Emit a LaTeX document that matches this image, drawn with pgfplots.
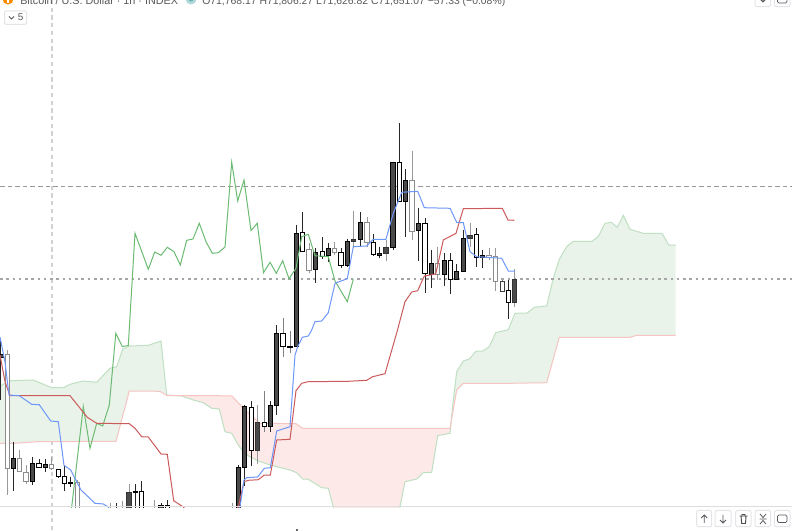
\documentclass[border=0pt]{standalone}
\usepackage{pgfplots}
\pgfplotsset{compat=1.18}
\usepackage{fontspec}
\setmainfont{Liberation Sans}
\definecolor{cloudG}{HTML}{E9F3EA}
\definecolor{cloudR}{HTML}{FDE9E7}
\definecolor{edgeG}{HTML}{BFE0C2}
\definecolor{edgeR}{HTML}{F6C4C2}
\definecolor{blueL}{HTML}{6E97FA}
\definecolor{redL}{HTML}{CB5A5A}
\definecolor{greenL}{HTML}{6CBB72}
\definecolor{darkB}{HTML}{4A4A4A}
\definecolor{btn}{HTML}{E4E5E9}
\definecolor{ico}{HTML}{5A5A5E}
% x, body top, body bottom, high, low, fill, edge, wick
\newcommand{\candle}[8]{%
  \addplot[draw=#8,line width=0.75pt] coordinates {(#1,#4)(#1,#5)};
  \addplot[fill=#6,draw=#7,line width=0.75pt] coordinates {(#1-2.1,#2)(#1+2.1,#2)(#1+2.1,#3)(#1-2.1,#3)} --cycle;
}
\newcommand{\dk}[5]{\candle{#1}{#2}{#3}{#4}{#5}{darkB}{black}{black!85}}
\newcommand{\dg}[5]{\candle{#1}{#2}{#3}{#4}{#5}{darkB}{black!80}{black!40}}
\newcommand{\wh}[5]{\candle{#1}{#2}{#3}{#4}{#5}{white}{black}{black!85}}
\newcommand{\gw}[5]{\candle{#1}{#2}{#3}{#4}{#5}{white}{black!45}{black!40}}
\begin{document}
\begin{tikzpicture}
\useasboundingbox (0,0) rectangle (594pt,398.25pt);
\fill[white] (0,0) rectangle (594pt,398.25pt);
\begin{scope}[x=0.75pt,y=-0.75pt,yshift=398.25pt]
  \draw[black!18,line width=1.5pt,dash pattern=on 3.2pt off 2.6pt] (52,0) -- (52,531);
\end{scope}
\begin{axis}[at={(0,18pt)},anchor=south west,scale only axis,width=594pt,height=380.25pt,
  xmin=0,xmax=792,ymin=0,ymax=507,y dir=reverse,axis lines=none]
% cloud fills
\addplot[fill=cloudG,draw=none] coordinates {(0,386)(10,380.7)(33.3,380)(51.7,387.7)(63.3,387.7)(70,384.3)(83.3,381)(96.7,382.3)(110,368.3)(116.7,366.7)(122.7,349)(130,346)(148.3,345.3)(161,341)(166.7,395)(160,391.3)(129.3,391)(116,441.3)(36.7,441.7)(15,443.3)(0,443.3)} --cycle;
\addplot[fill=cloudR,draw=none] coordinates {(166.7,395.5)(231.7,395.8)(245,410)(260,423.3)(296,423.7)(302.7,428.3)(450,428.3)(451,425)(450,433.3)(437.7,435.7)(431.7,472.3)(423.3,472.7)(416.7,479)(405,481.7)(400,507)(398,520)(336,520)(333.3,507)(328.3,488.3)(321.7,487.7)(308.3,479.3)(302.7,479)(296.7,472.7)(290,470)(270,465)(258.3,461)(245,454)(238.3,445)(231.7,433.3)(225,431.7)(219.3,409)(211.7,408.3)(203.3,402.7)(193.3,400)(181.7,396)} --cycle;
\addplot[fill=cloudG,draw=none] coordinates {(451,425)(453.3,400)(456.7,371.7)(463.3,361)(469.3,359)(476,351.3)(482.7,351)(489.3,346.7)(495.7,332.7)(508.3,329.7)(515,313.3)(527.3,313)(534.3,307.3)(546.7,306)(553.3,278.3)(559.3,259.3)(566.7,246.7)(573.3,241.3)(592,241.3)(598.3,236.7)(605,223.3)(611.3,222.3)(617.3,227.3)(623.3,215.3)(630,229.3)(643.3,233.3)(662,233.3)(668.7,245)(675.7,245.3)(675.7,335.3)(636.7,335.3)(630,337.3)(559.3,337.3)(546.7,382.7)(510,383.3)(463.3,383.3)(456.7,390)} --cycle;
% cloud edges: span A
\addplot[edgeG,line width=0.75pt] coordinates {(0,386)(10,380.7)(33.3,380)(51.7,387.7)(63.3,387.7)(70,384.3)(83.3,381)(96.7,382.3)(110,368.3)(116.7,366.7)(122.7,349)(130,346)(148.3,345.3)(161,341)(166.7,395)(181.7,396)(193.3,400)(203.3,402.7)(211.7,408.3)(219.3,409)(225,431.7)(231.7,433.3)(238.3,445)(245,454)(258.3,461)(270,465)(290,470)(296.7,472.7)(302.7,479)(308.3,479.3)(321.7,487.7)(328.3,488.3)(333.3,507)(336,520)(398,520)(400,507)(405,481.7)(416.7,479)(423.3,472.7)(431.7,472.3)(437.7,435.7)(450,433.3)(453.3,400)(456.7,371.7)(463.3,361)(469.3,359)(476,351.3)(482.7,351)(489.3,346.7)(495.7,332.7)(508.3,329.7)(515,313.3)(527.3,313)(534.3,307.3)(546.7,306)(553.3,278.3)(559.3,259.3)(566.7,246.7)(573.3,241.3)(592,241.3)(598.3,236.7)(605,223.3)(611.3,222.3)(617.3,227.3)(623.3,215.3)(630,229.3)(643.3,233.3)(662,233.3)(668.7,245)(675.7,245.3)};
% cloud edges: span B
\addplot[edgeR,line width=0.75pt] coordinates {(0,443.3)(15,443.3)(36.7,441.7)(116,441.3)(129.3,391)(160,391.3)(166.7,395.5)(231.7,395.8)(245,410)(260,423.3)(296,423.7)(302.7,428.3)(450,428.3)(456.7,390)(463.3,383.3)(510,383.3)(546.7,382.7)(559.3,337.3)(630,337.3)(636.7,335.3)(675.7,335.3)};
% horizontal levels
\addplot[color=black!40,line width=0.75pt,dash pattern=on 3.4pt off 2.3pt] coordinates {(0,186.3)(792,186.3)};
\addplot[color=black!35,line width=1.1pt,dash pattern=on 1.9pt off 2.8pt] coordinates {(0,279)(792,279)};
% candles: x, body top, body bottom, high, low
\dk{1}{354}{357}{340}{400}
\gw{7.3}{354.3}{468.3}{350}{495}
\dk{13.3}{458.3}{468.3}{441.7}{490.7}
\gw{19.5}{458.3}{471.7}{450}{472}
\gw{26}{472.3}{481.7}{465}{484}
\dk{32.3}{463.3}{481.7}{456.7}{485}
\wh{39}{463.3}{467.3}{459}{468}
\dk{45.3}{464.3}{467.3}{459}{471.7}
\gw{51.7}{464.3}{468.3}{456.7}{470}
\wh{58.3}{469.3}{476.7}{469.3}{478.3}
\wh{64.3}{476}{483.3}{465}{490.7}
\dk{70.7}{482.3}{483.7}{476.7}{486.7}
\gw{77.3}{482.3}{525}{480}{530}
\gw{110}{515}{525}{503}{530}
\dk{116.3}{515}{525}{503}{530}
\gw{122.3}{515}{525}{501}{530}
\dg{129}{492.3}{525}{484.3}{530}
\dk{135.3}{491.3}{492.7}{484}{530}
\wh{141.7}{491.3}{525}{481}{530}
\gw{154.7}{515}{525}{500}{530}
\dk{161}{505.7}{508}{503}{530}
\wh{167.3}{505.7}{525}{500}{530}
\gw{232}{515}{525}{503}{530}
\dk{238.3}{467.3}{525}{465}{530}
\dk{244.3}{406.3}{467.3}{405}{485.7}
\wh{251.7}{407.3}{450}{401}{466}
\dg{257.7}{422.3}{450}{405}{464}
\candle{264.3}{422.3}{426.7}{391}{432.3}{white}{black}{black!50}
\dk{270.3}{405}{426.7}{401}{432.3}
\dk{276.7}{333.3}{405}{325}{415}
\candle{283}{333.3}{346.7}{318}{357.3}{white}{black}{black!50}
\candle{290}{346}{347}{331}{352.7}{black}{black}{black!50}
\dk{296.5}{233.3}{346.7}{225}{347}
\wh{302.3}{232.3}{251}{211.7}{252}
\gw{309}{249.3}{270.7}{242.7}{273.3}
\dk{315.7}{252.3}{269.7}{248.3}{283.3}
\wh{322.3}{251.7}{256}{237.3}{259.3}
\dk{328.3}{248.3}{255.7}{243.3}{261.7}
\gw{334.7}{248.3}{252.7}{242.3}{255}
\wh{341}{252.3}{265.7}{248.3}{268.3}
\dk{347.3}{241.3}{265.7}{239}{266.7}
\dg{353.7}{239.3}{241.3}{211}{248.3}
\dk{360.3}{222.7}{239.3}{211.7}{246}
\gw{367}{222.7}{242.3}{216.7}{246.7}
\wh{373.3}{242.3}{254.3}{234.3}{255.7}
\dk{379.5}{253}{255}{246.7}{258.3}
\dg{386}{247.3}{253.3}{240}{261}
\dk{393}{162.3}{247.3}{161.7}{250}
\wh{399.3}{162.3}{201.7}{123.3}{201.7}
\dk{405.7}{180.7}{201.7}{169.3}{237.3}
\gw{412}{180.7}{231}{150.7}{240}
\dk{418.3}{223.3}{230.7}{208.3}{260.7}
\wh{425}{223}{273.7}{218}{293.3}
\dk{431.3}{263}{274}{250}{288.3}
\gw{437.7}{263}{274.3}{247.3}{280}
\dk{444.3}{260.3}{274}{253.3}{285.7}
\wh{450.3}{260.7}{279.3}{253.3}{294.3}
\dk{456.7}{271.7}{279}{264.3}{280}
\dk{463.3}{238.3}{271.7}{230}{272.3}
\dg{470}{235}{238.3}{223.3}{247.3}
\wh{476.3}{234.7}{257.7}{228.3}{267.3}
\dk{482.7}{255.3}{257.7}{250}{267.7}
\gw{489}{255.3}{257.7}{248.3}{260}
\gw{495.7}{256.3}{281.3}{248.3}{291}
\candle{502.3}{281}{291}{280}{292}{white}{black!75}{black!50}
\wh{508.3}{290.7}{302.7}{280}{319}
\dg{514.7}{279}{302.7}{269.3}{306.7}
% chikou (green)
\addplot[greenL,line width=0.75pt] coordinates {(70,520)(71.7,507)(83.3,406.7)(90,448.3)(96.7,423.3)(102.7,426)(109.3,405)(115.8,333.3)(122.3,346.5)(128.3,345.5)(135,233.3)(148.3,269.3)(154.7,252)(161,255.3)(167.3,247.3)(174,251.7)(180.3,265)(186.7,240.3)(193,239)(199.3,223.3)(206,241.7)(212.3,253.3)(218.3,252.7)(225,247)(231.7,162.3)(237.7,201)(244,180)(251,230.5)(257.3,223.3)(263.5,272.7)(270,262.3)(276.3,273.3)(282.7,260.7)(289,278.7)(296,268.3)(301.7,236.7)(308.3,234.3)(315,255.7)(328.3,256.7)(335,281)(347.3,301.7)(353.3,279.3)};
% kijun (red)
\addplot[redL,line width=0.75pt] coordinates {(0,355)(5,381.7)(10,395.7)(70,395.7)(78.3,406)(87.3,417.3)(96.7,423.3)(129.3,423.7)(135,428.3)(141.7,436.7)(148.3,437)(161,454)(167.3,454.3)(173.7,500.7)(183.3,507)(190,515)(232,515)(238.3,507)(244,481.7)(248.3,480.3)(258.3,479.7)(264.3,475)(270.3,475)(276.7,440)(290,439.3)(296,390.7)(301.7,383.3)(308.3,381.7)(348.3,381.3)(366.7,380.3)(372.7,376.7)(385,373.7)(397.5,330)(405,301.7)(411.7,292)(417.7,290.7)(424.3,276)(435.7,274)(443.3,240)(456,233.3)(463.3,208.7)(502.3,208.3)(508,220)(514.3,220.3)};
% tenkan (blue)
\addplot[blueL,line width=0.75pt] coordinates {(0,337)(5,362)(9,395)(19.3,395.7)(31.7,404.3)(39.3,404.7)(50.7,421)(58.3,421.7)(64,465.3)(70.7,470)(81,490)(95,503.3)(103.3,504)(108.3,507)(115,520)(232,520)(240,507)(244,480)(246.7,477.7)(257.7,477)(264.3,468.3)(270.3,467.7)(276.7,431)(290,426.7)(295,355)(297.7,346.7)(302.3,337.3)(308.3,336)(311.7,330)(315,321.7)(321.7,321)(328.3,312.7)(335,283.3)(347.3,278.7)(353.3,246.7)(366.7,246)(373.3,239.3)(385.9,239.3)(393.3,213.3)(401.7,192.3)(417.7,191.3)(424.3,207.7)(450,208.3)(456.7,222.3)(463.3,222.7)(470,251.7)(476.7,256.7)(501.7,258.3)(508.3,271)(515,271)};
\end{axis}
\begin{scope}[x=0.75pt,y=-0.75pt,yshift=398.25pt]
  % bottom border
  \draw[black!13,line width=0.75pt] (0,507) -- (792,507);
  % header
  \fill[orange!90!yellow] (8,-1) circle (5.5);
  \fill[white] (7,-2) rectangle (9,3);
  \node[anchor=base west,inner sep=0pt,text=black!65,font=\fontsize{8.1pt}{10pt}\selectfont] at (20,5) {Bitcoin / U.S. Dollar · 1h · INDEX};
  \fill[teal!30] (191,-1) circle (5.5);
  \fill[teal!60] (191,-1) circle (2.5);
  \node[anchor=base west,inner sep=0pt,text=black!65,font=\fontsize{7.8pt}{10pt}\selectfont] at (202,5) {O71,768.17 H71,806.27 L71,626.82 C71,651.07 −57.33 (−0.08\%)};
  % interval button
  \draw[btn,fill=white,rounded corners=1pt,line width=0.75pt] (4.5,11) rectangle (26.5,24.5);
  \draw[ico,line width=0.6pt] (9,16.5) -- (11.5,19) -- (14,16.5);
  \node[anchor=base,inner sep=0pt,text=black!65,font=\fontsize{7.4pt}{9pt}\selectfont] at (20.5,21) {5};
  % top right buttons
  \draw[btn,fill=white,rounded corners=1.5pt,line width=0.75pt] (755,-10) rectangle (770.7,6.7);
  \draw[btn,fill=white,rounded corners=1.5pt,line width=0.75pt] (774.3,-10) rectangle (790,6.7);
  \draw[ico,line width=0.6pt] (763,-3) -- (763,2) (760.5,-0.5) -- (763,2) -- (765.5,-0.5);
  \draw[ico,line width=0.6pt,rounded corners=1pt] (777.5,-3) rectangle (787,3);
  % bottom right buttons
  \foreach \a/\b in {696.7/711.7,715/731,735.7/751,755/770.7,774.3/790}
    \draw[btn,fill=white,rounded corners=1.5pt,line width=0.75pt] (\a,510.5) rectangle (\b,526.7);
  \draw[ico,line width=0.6pt] (704.2,523) -- (704.2,515) (701.2,518) -- (704.2,515) -- (707.2,518);
  \draw[ico,line width=0.6pt] (723,515) -- (723,523) (720,520) -- (723,523) -- (726,520);
  \draw[black!70,line width=0.7pt] (739.5,516) -- (747.5,516) (741,516) -- (741.7,523.5) -- (745.5,523.5) -- (746,516) (742,516) -- (742,514.5) -- (745,514.5) -- (745,516);
  \draw[ico,line width=0.6pt] (760,514) -- (763,517.5) -- (766,514) (760,524) -- (763,520.5) -- (766,524) (759.5,519) -- (766.5,519);
  \draw[ico,line width=0.6pt,rounded corners=1pt] (777.5,515) rectangle (787,522.5);
  \fill[black!60] (295.5,529.5) rectangle (298,531);
\end{scope}
\end{tikzpicture}
\end{document}
